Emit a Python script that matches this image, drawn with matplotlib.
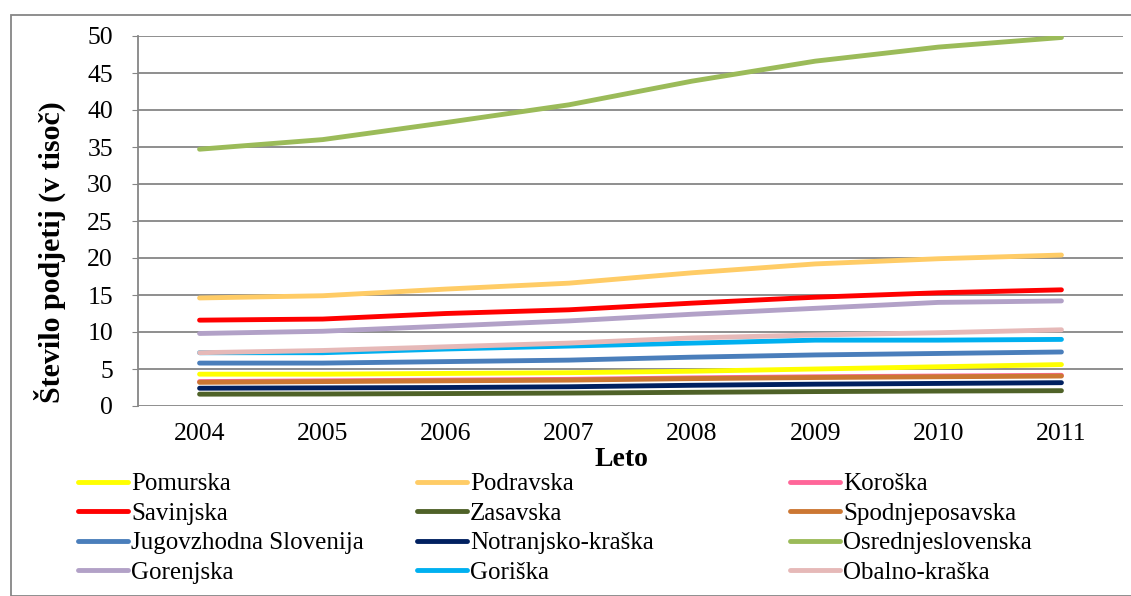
import matplotlib.pyplot as plt
from matplotlib.patches import Rectangle

plt.rcParams['font.family'] = ['Liberation Serif', 'DejaVu Serif']

years = ['2004', '2005', '2006', '2007', '2008', '2009', '2010', '2011']

# number of companies (in thousands) per region
pomurska = [4.3, 4.3, 4.4, 4.5, 4.7, 5.0, 5.3, 5.6]
podravska = [14.6, 14.9, 15.8, 16.6, 18.0, 19.2, 19.9, 20.4]
koroska = [3.3, 3.4, 3.5, 3.6, 3.8, 3.95, 4.05, 4.15]
savinjska = [11.6, 11.75, 12.5, 13.0, 13.9, 14.7, 15.3, 15.7]
zasavska = [1.6, 1.62, 1.68, 1.75, 1.85, 1.95, 2.02, 2.07]
spodnjeposavska = [3.2, 3.3, 3.4, 3.5, 3.7, 3.85, 3.95, 4.05]
jugovzhodna = [5.8, 5.8, 6.0, 6.2, 6.6, 6.9, 7.1, 7.3]
notranjska = [2.4, 2.45, 2.5, 2.6, 2.8, 2.95, 3.05, 3.15]
osrednjeslovenska = [34.7, 36.0, 38.3, 40.7, 43.9, 46.6, 48.5, 49.8]
gorenjska = [9.8, 10.1, 10.8, 11.5, 12.4, 13.2, 14.0, 14.2]
goriska = [7.2, 7.2, 7.7, 8.1, 8.5, 8.9, 8.9, 9.0]
obalno = [7.2, 7.5, 8.0, 8.5, 9.2, 9.6, 9.9, 10.3]

regions = ['Pomurska', 'Podravska', 'Koroška', 'Savinjska', 'Zasavska',
           'Spodnjeposavska', 'Jugovzhodna Slovenija', 'Notranjsko-kraška',
           'Osrednjeslovenska', 'Gorenjska', 'Goriška', 'Obalno-kraška']
series = [pomurska, podravska, koroska, savinjska, zasavska, spodnjeposavska,
          jugovzhodna, notranjska, osrednjeslovenska, gorenjska, goriska, obalno]
colors = ['#FFFF00', '#FFCC66', '#FF6699', '#FF0000', '#4F6228', '#CC7733',
          '#4A7EBB', '#002060', '#9BBB59', '#B2A1C7', '#00B0F0', '#E6B9B8']

fig = plt.figure(figsize=(11.31, 5.96), dpi=100)
ax = fig.add_axes([138 / 1131, 1 - 406 / 596, 985 / 1131, 370 / 596])

x = range(len(years))
lines = []
for name, vals, c in zip(regions, series, colors):
    ln, = ax.plot(x, vals, color=c, linewidth=3.5, solid_capstyle='round', label=name)
    lines.append(ln)

ax.set_xlim(-0.5, len(years) - 0.5)
ax.set_ylim(0, 50)
ax.set_yticks(range(0, 51, 5))
ax.set_xticks(list(x))
ax.set_xticklabels(years)
ax.grid(axis='y', color='#868686', linewidth=1.3)
ax.set_axisbelow(True)
for s in ['top', 'right', 'bottom']:
    ax.spines[s].set_visible(False)
ax.spines['left'].set_color('#868686')
ax.spines['left'].set_linewidth(1.3)
ax.tick_params(axis='y', labelsize=18.5, length=4, color='#868686', pad=14)
ax.tick_params(axis='x', labelsize=18.5, length=0, pad=12)

fig.text(50 / 1131, 1 - 252 / 596, 'Število podjetij (v tisoč)', rotation=90,
         ha='center', va='center', fontsize=21.5, fontweight='bold')
fig.text(621 / 1131, 1 - 460 / 596, 'Leto', ha='center', va='center',
         fontsize=20, fontweight='bold')

# legend in three columns, row-major like the original
col_x = [78 / 1131, 417 / 1131, 790 / 1131]
for i in range(3):
    hs = [lines[j] for j in range(i, 12, 3)]
    fig.legend(hs, [h.get_label() for h in hs], loc='upper left',
               bbox_to_anchor=(col_x[i], 1 - 473 / 596), frameon=False,
               fontsize=18, handlelength=2.0, handletextpad=0.12,
               labelspacing=0.28, borderpad=0, borderaxespad=0)

fig.patches.append(Rectangle((11 / 1131, 0), 1.5, 1 - 15 / 596, transform=fig.transFigure,
                             fill=False, edgecolor='#868686', linewidth=1.3))

fig.savefig('out.png', dpi=100)
